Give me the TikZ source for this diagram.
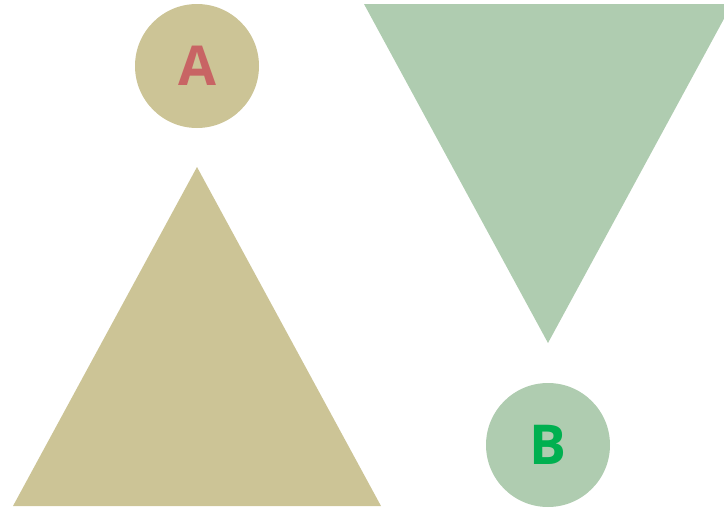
\documentclass[tikz,border=0pt]{standalone}
\usepackage{fontspec}
\setmainfont{Open Sans}
\definecolor{tan}{HTML}{CCC496}
\definecolor{sage}{HTML}{AFCCB0}
\definecolor{redtxt}{HTML}{C86464}
\definecolor{greentxt}{HTML}{00B050}
\begin{document}
\begin{tikzpicture}[x=1pt,y=-1pt,
  ball/.style={circle,minimum size=124pt,inner sep=0pt,font=\fontsize{55}{55}\selectfont\bfseries}]
\useasboundingbox (0,0) rectangle (724,509);
\clip (0,0) rectangle (724,509);
\node[ball,fill=tan,text=redtxt] (a) at (197,66) {A};
\fill[tan] (197,167) -- (381,506) -- (13,506) -- cycle;
\fill[sage] (364,4) -- (732,4) -- (548,343) -- cycle;
\node[ball,fill=sage,text=greentxt] (b) at (548,445) {B};
\end{tikzpicture}
\end{document}
